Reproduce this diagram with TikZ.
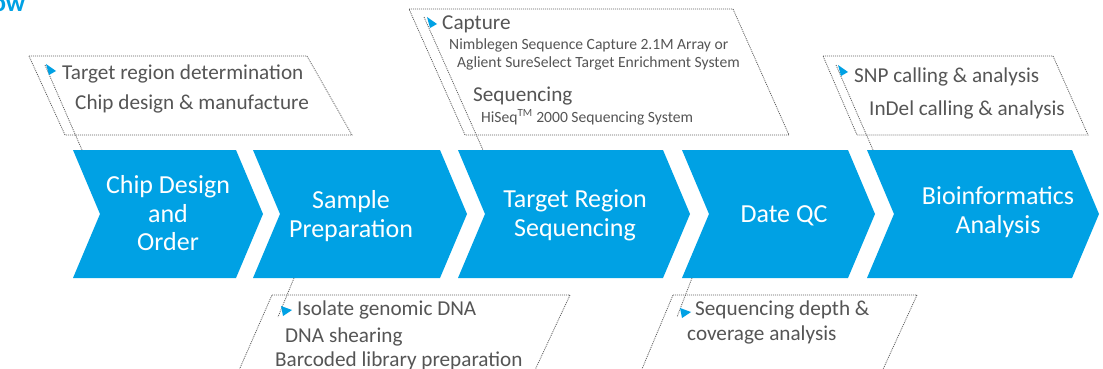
\documentclass[tikz,border=0pt]{standalone}
\usepackage{fontspec}
\setmainfont{Carlito}
\definecolor{cblue}{HTML}{00A1E4}
\definecolor{tgray}{HTML}{555555}
\definecolor{dgray}{HTML}{606060}
\tikzset{
  chev/.style={fill=cblue, draw=none},
  chtxt/.style={font=\fontsize{26}{28}\selectfont, text=white, anchor=base, inner sep=0pt},
  bigtxt/.style={font=\fontsize{21.2}{24}\selectfont, text=tgray, anchor=base west, inner sep=0pt},
  smalltxt/.style={font=\fontsize{15.6}{18}\selectfont, text=tgray, anchor=base west, inner sep=0pt},
  callout/.style={draw=dgray, line width=0.8pt, dash pattern=on 1pt off 1pt},
  bulletmark/.style={fill=cblue, draw=none},
}
\begin{document}
\begin{tikzpicture}[x=1pt,y=-1pt]
\useasboundingbox (0,0) rectangle (1103,369);
\clip (0,0) rectangle (1103,369);
\fill[white] (0,0) rectangle (1103,369);

% title fragment
\node[font=\fontsize{26}{28}\selectfont\bfseries, text=cblue, anchor=base east, inner sep=0pt] (title) at (25.5,11.5) {ow};

% chevrons
\def\d{27}
\foreach \L/\R/\nm in {73/236/c1, 253/440/c2, 458/663/c3, 682/848/c4, 867/1072/c5}{
  \fill[chev] (\L,150) -- (\R,150) -- (\R+\d,214) -- (\R,278) -- (\L,278) -- (\L+\d,214) -- cycle;
  \coordinate (\nm) at (\L,150);
}

% chevron texts
\node[chtxt] (t1a) at (168,193) {Chip Design};
\node[chtxt] (t1b) at (168,222) {and};
\node[chtxt] (t1c) at (168,250) {Order};
\node[chtxt] (t2a) at (351,208) {Sample};
\node[chtxt] (t2b) at (351,237) {Preparation};
\node[chtxt] (t3a) at (575,207) {Target Region};
\node[chtxt] (t3b) at (575,236) {Sequencing};
\node[chtxt] (t4a) at (784,222) {Date QC};
\node[chtxt] (t5a) at (998,204) {Bioinformatics};
\node[chtxt] (t5b) at (998,233) {Analysis};

% callout 1
\draw[callout] (29,56) -- (307,56) -- (352,135) -- (65,135) -- cycle;
\coordinate (a1) at (45,65); \coordinate (b1) at (82,150);
\draw[callout] (a1) -- (b1);
\fill[bulletmark] (46,64) -- (56,71) -- (49,75) -- cycle;
\node[bigtxt] (n1a) at (62,80) {Target region determination};
\node[bigtxt] (n1b) at (75,110) {Chip design \& manufacture};

% callout 3
\draw[callout] (409,9) -- (733,9) -- (789,135) -- (465,135) -- cycle;
\coordinate (a3) at (424,17); \coordinate (b3) at (483,150);
\draw[callout] (a3) -- (b3);
\fill[bulletmark] (427,17) -- (437,24) -- (430,28) -- cycle;
\node[bigtxt] (n3a) at (442,30) {Capture};
\node[smalltxt] (n3b) at (449,50) {Nimblegen Sequence Capture 2.1M Array or};
\node[smalltxt] (n3c) at (457,68) {Aglient SureSelect Target Enrichment System};
\node[bigtxt] (n3d) at (473,102) {Sequencing};
\node[smalltxt] (n3e) at (481,122) {HiSeq\textsuperscript{TM} 2000 Sequencing System};

% callout 5
\draw[callout] (823,56) -- (1053,56) -- (1088,135) -- (857,135) -- cycle;
\coordinate (a5) at (836,65); \coordinate (b5) at (873,150);
\draw[callout] (a5) -- (b5);
\fill[bulletmark] (838,65) -- (848,72) -- (841,76) -- cycle;
\node[bigtxt] (n5a) at (854,82) {SNP calling \& analysis};
\node[bigtxt] (n5b) at (869,115) {InDel calling \& analysis};

% callout 2
\draw[callout] (272,295) -- (570,295) -- (521,400) -- (226,400) -- cycle;
\coordinate (a2) at (294,278); \coordinate (b2) at (278,317);
\draw[callout] (a2) -- (b2);
\fill[bulletmark] (281,306) -- (292,310) -- (283,316) -- cycle;
\node[bigtxt] (n2a) at (297,315) {Isolate genomic DNA};
\node[bigtxt] (n2b) at (285,342) {DNA shearing};
\node[bigtxt] (n2c) at (275,366) {Barcoded library preparation};

% callout 4
\draw[callout] (673,295) -- (917,295) -- (869,400) -- (629,400) -- cycle;
\coordinate (a4) at (692,278); \coordinate (b4) at (677,317);
\draw[callout] (a4) -- (b4);
\fill[bulletmark] (680,308) -- (691,312) -- (682,318) -- cycle;
\node[bigtxt] (n4a) at (695,315) {Sequencing depth \&};
\node[bigtxt] (n4b) at (687,340) {coverage analysis};
\end{tikzpicture}
\end{document}
